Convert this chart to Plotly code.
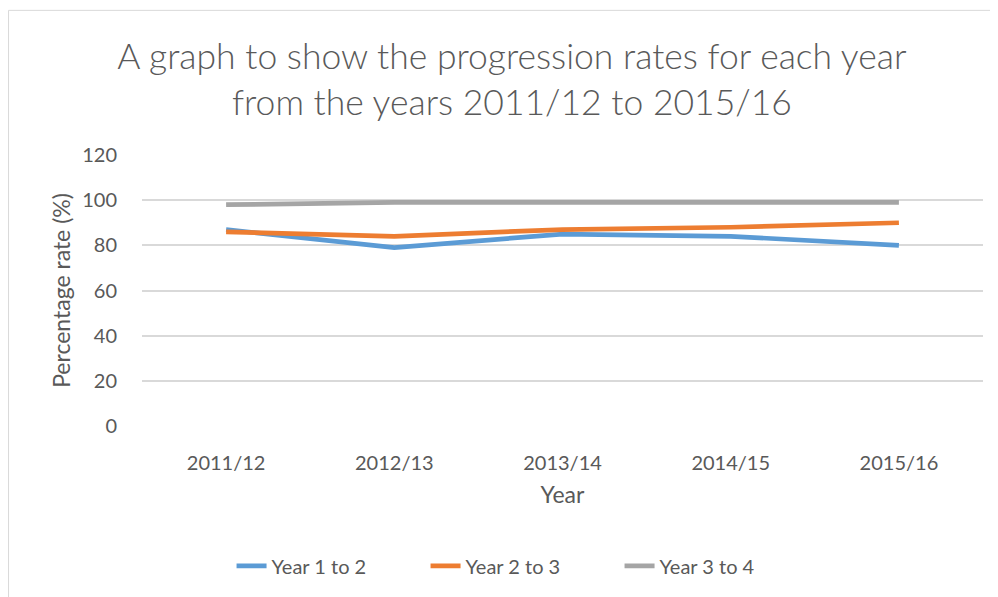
import plotly.graph_objects as go

years = ["2011/12", "2012/13", "2013/14", "2014/15", "2015/16"]
year1_to_2 = [87, 79, 85, 84, 80]
year2_to_3 = [86, 84, 87, 88, 90]
year3_to_4 = [98, 99, 99, 99, 99]

series_names = ["Year 1 to 2", "Year 2 to 3", "Year 3 to 4"]
series_values = [year1_to_2, year2_to_3, year3_to_4]
colors = ["#5B9BD5", "#ED7D31", "#A5A5A5"]

FONT = "Lato"
TXT = "#595959"

fig = go.Figure()
for name, vals, col in zip(series_names, series_values, colors):
    fig.add_trace(go.Scatter(x=years, y=vals, name=name, mode="lines",
                             line=dict(color=col, width=4.7)))

fig.update_layout(
    width=990, height=589,
    margin=dict(l=134, r=15, t=147, b=171),
    paper_bgcolor="white", plot_bgcolor="white",
    font=dict(family=FONT, color=TXT, size=20),
    title=dict(text="A graph to show the progression rates for each year<br>from the years 2011/12 to 2015/16",
               x=0.509, xanchor="center", y=0.897, yanchor="top", yref="container",
               font=dict(family=FONT, size=35.5, color=TXT, weight=300)),
    showlegend=True,
    legend=dict(orientation="h", x=0.4525, xanchor="center", y=-0.516, yanchor="middle",
                font=dict(family=FONT, size=20, color=TXT), itemwidth=30,
                entrywidth=149, entrywidthmode="pixels",
                bgcolor="rgba(0,0,0,0)"),
    shapes=[dict(type="rect", xref="paper", yref="paper", x0=-0.1587, x1=1.2,
                 y0=-0.8, y1=1.5337, line=dict(color="#D9D9D9", width=1), layer="below")],
)
fig.update_xaxes(range=[-0.5, 4.5], showgrid=False, showline=False, zeroline=False, ticks="",
                 ticklabelstandoff=23,
                 tickfont=dict(family=FONT, size=20, color=TXT),
                 title=dict(text="Year", font=dict(family=FONT, size=23, color=TXT), standoff=13))
fig.update_yaxes(range=[0, 120], dtick=20, showgrid=True, gridcolor="#D9D9D9", gridwidth=1.5,
                 zeroline=False, showline=False, ticks="", ticklabelstandoff=24,
                 tickfont=dict(family=FONT, size=20, color=TXT),
                 title=dict(text="Percentage rate (%)", font=dict(family=FONT, size=23, color=TXT), standoff=5))

fig.write_html("out.html")
